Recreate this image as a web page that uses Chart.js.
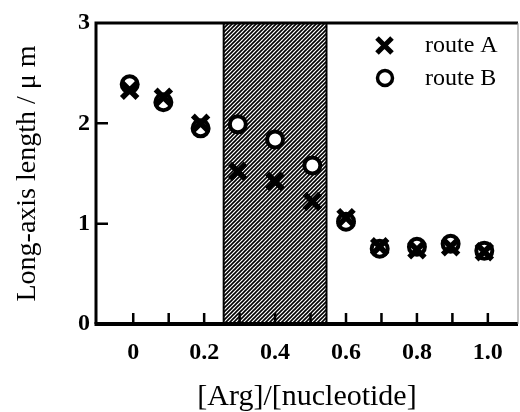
<!DOCTYPE html>
<html>
<head>
<meta charset="utf-8">
<script src="https://cdn.jsdelivr.net/npm/chart.js@4.4.1/dist/chart.umd.min.js"></script>
<style>
  html, body { margin: 0; padding: 0; background: #fff; overflow: hidden; }
  canvas { display: block; }
</style>
</head>
<body>
<canvas id="lengthChart" width="520" height="412"></canvas>
<script>
// [Arg]/[nucleotide] ratio for each sample (same for both routes)
var ratio = [-0.01, 0.085, 0.19, 0.295, 0.40, 0.505, 0.60, 0.695, 0.80, 0.895, 0.99];
var routeA = [2.33, 2.26, 2.00, 1.52, 1.42, 1.22, 1.06, 0.77, 0.74, 0.77, 0.72];
var routeB = [2.39, 2.21, 1.95, 1.99, 1.84, 1.58, 1.02, 0.75, 0.77, 0.80, 0.73];
var seriesNames = ['route A', 'route B'];

var xTickValues = [0, 0.1, 0.2, 0.3, 0.4, 0.5, 0.6, 0.7, 0.8, 0.9, 1.0];
var xTickLabels = ['0', '', '0.2', '', '0.4', '', '0.6', '', '0.8', '', '1.0'];
var yTickValues = [0, 1, 2, 3];
var shadeFrom = 0.255, shadeTo = 0.545;

function points(ys) {
    return ratio.map(function (x, i) { return { x: x, y: ys[i] }; });
}

var serif = '"Liberation Serif", "DejaVu Serif", serif';

// hatched band + axes frame + inward ticks
var framePlugin = {
    id: 'frame',
    beforeDatasetsDraw: function (chart) {
        var ctx = chart.ctx, a = chart.chartArea, xs = chart.scales.x, ys = chart.scales.y;
        var x0 = xs.getPixelForValue(shadeFrom), x1 = xs.getPixelForValue(shadeTo);

        var pc = document.createElement('canvas');
        pc.width = 4; pc.height = 4;
        var p = pc.getContext('2d');
        p.fillStyle = '#fff'; p.fillRect(0, 0, 4, 4);
        p.strokeStyle = '#000'; p.lineWidth = 1.6;
        p.beginPath();
        p.moveTo(-1, 5); p.lineTo(5, -1);
        p.moveTo(-1, 1); p.lineTo(1, -1);
        p.moveTo(3, 5); p.lineTo(5, 3);
        p.stroke();

        ctx.save();
        ctx.fillStyle = ctx.createPattern(pc, 'repeat');
        ctx.fillRect(x0, a.top, x1 - x0, a.bottom - a.top);
        ctx.strokeStyle = '#000';
        ctx.lineWidth = 2;
        ctx.beginPath();
        ctx.moveTo(x0, a.top); ctx.lineTo(x0, a.bottom);
        ctx.moveTo(x1, a.top); ctx.lineTo(x1, a.bottom);
        ctx.stroke();

        // frame
        ctx.lineWidth = 3;
        ctx.beginPath();
        ctx.moveTo(a.left, a.top); ctx.lineTo(a.right, a.top);
        ctx.moveTo(a.left, a.top - 1.5); ctx.lineTo(a.left, a.bottom);
        ctx.stroke();
        ctx.lineWidth = 4;
        ctx.beginPath();
        ctx.moveTo(a.left - 1.5, a.bottom); ctx.lineTo(a.right, a.bottom);
        ctx.stroke();
        ctx.strokeStyle = '#888';
        ctx.lineWidth = 1;
        ctx.beginPath();
        ctx.moveTo(a.right, a.top); ctx.lineTo(a.right, a.bottom);
        ctx.stroke();

        // inward ticks
        ctx.strokeStyle = '#000';
        ctx.lineWidth = 2.5;
        ctx.beginPath();
        xTickValues.forEach(function (v) {
            var px = xs.getPixelForValue(v);
            ctx.moveTo(px, a.bottom); ctx.lineTo(px, a.bottom - 11);
        });
        [1, 2].forEach(function (v) {
            var py = ys.getPixelForValue(v);
            ctx.moveTo(a.left, py); ctx.lineTo(a.left + 12, py);
        });
        ctx.stroke();
        ctx.restore();
    },
    afterDraw: function (chart) {
        var ctx = chart.ctx;
        ctx.save();
        // legend
        ctx.strokeStyle = '#000';
        ctx.lineWidth = 5;
        ctx.beginPath();
        ctx.moveTo(377, 38); ctx.lineTo(392, 53);
        ctx.moveTo(392, 38); ctx.lineTo(377, 53);
        ctx.stroke();
        ctx.lineWidth = 3.5;
        ctx.beginPath();
        ctx.arc(385, 78, 7.5, 0, Math.PI * 2);
        ctx.fillStyle = '#fff';
        ctx.fill();
        ctx.stroke();
        ctx.fillStyle = '#000';
        ctx.font = '24px ' + serif;
        ctx.textBaseline = 'middle';
        ctx.fillText(seriesNames[0], 425, 46);
        ctx.fillText(seriesNames[1], 425, 79);
        ctx.restore();
    }
};

var ctx = document.getElementById('lengthChart').getContext('2d');
var myChart = new Chart(ctx, {
    type: 'scatter',
    data: {
        datasets: [{
            label: seriesNames[0],
            data: points(routeA),
            pointStyle: 'crossRot',
            pointRadius: 11,
            pointBorderWidth: 5.5,
            borderColor: '#000',
            backgroundColor: '#000'
        }, {
            label: seriesNames[1],
            data: points(routeB),
            pointStyle: 'circle',
            pointRadius: 8,
            pointBorderWidth: 4,
            borderColor: '#000',
            backgroundColor: '#fff'
        }]
    },
    options: {
        responsive: false,
        animation: false,
        layout: { autoPadding: false, padding: { top: 23, right: 2, left: 0, bottom: 0 } },
        plugins: {
            legend: { display: false },
            tooltip: { enabled: false }
        },
        scales: {
            x: {
                type: 'linear',
                min: -0.105,
                max: 1.085,
                grid: { display: false, drawTicks: false },
                border: { display: false },
                afterBuildTicks: function (scale) {
                    scale.ticks = xTickValues.map(function (v) { return { value: v }; });
                },
                afterFit: function (scale) {
                    scale.height = 88;
                    scale.paddingLeft = 0;
                    scale.paddingRight = 0;
                },
                ticks: {
                    autoSkip: false,
                    maxRotation: 0,
                    padding: 14,
                    color: '#000',
                    font: { family: serif, size: 24, weight: 'bold' },
                    callback: function (v, i) { return xTickLabels[i]; }
                },
                title: {
                    display: true,
                    text: '[Arg]/[nucleotide]',
                    color: '#000',
                    font: { family: serif, size: 30, lineHeight: 1 },
                    padding: { top: 0, bottom: 0 }
                }
            },
            y: {
                min: 0,
                max: 3,
                grid: { display: false, drawTicks: false },
                border: { display: false },
                afterBuildTicks: function (scale) {
                    scale.ticks = yTickValues.map(function (v) { return { value: v }; });
                },
                afterFit: function (scale) {
                    scale.width = 96;
                    scale.paddingTop = 0;
                    scale.paddingBottom = 0;
                },
                ticks: {
                    padding: 6,
                    color: '#000',
                    font: { family: serif, size: 24, weight: 'bold' }
                },
                title: {
                    display: true,
                    text: 'Long-axis length / \u03bc m',
                    color: '#000',
                    font: { family: serif, size: 28 },
                    padding: { top: 11, bottom: 0 }
                }
            }
        }
    },
    plugins: [framePlugin]
});
</script>
</body>
</html>
